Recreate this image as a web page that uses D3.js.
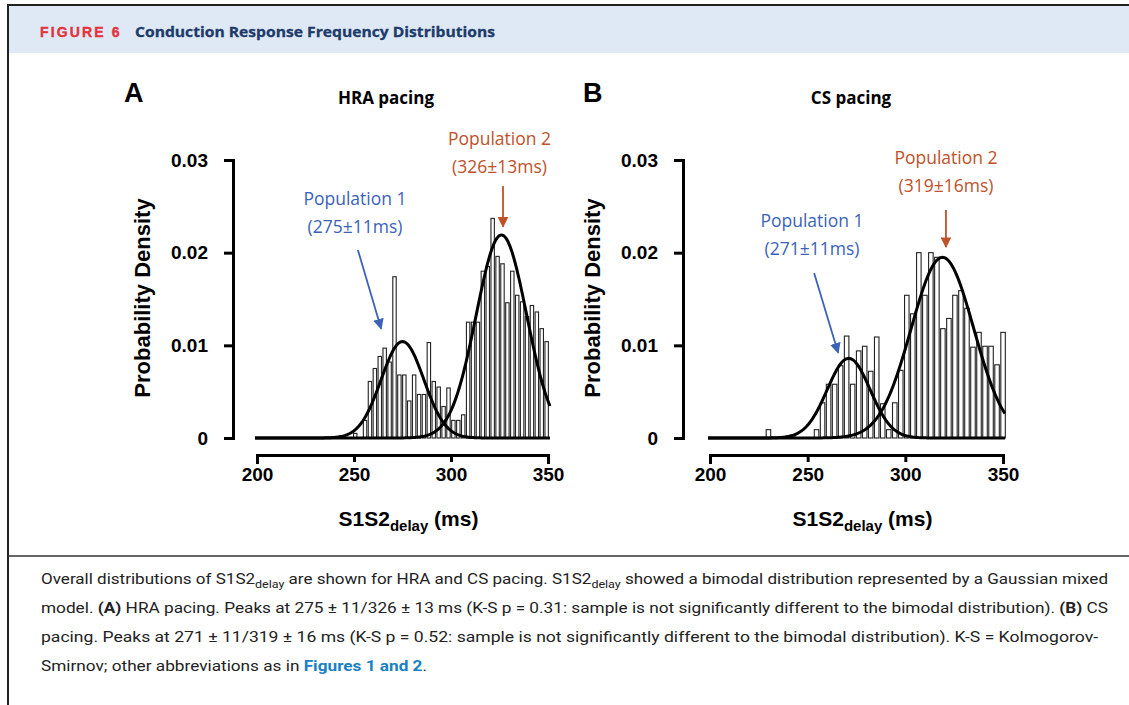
<!DOCTYPE html>
<html>
<head>
<meta charset="utf-8">
<script src="https://cdn.jsdelivr.net/npm/d3@7"></script>
<style>
  body { margin: 0; background: #fff; }
</style>
</head>
<body>
<div id="figure"></div>
<script>
// histogram bins (ms) and densities
var hraStart = 249.5, hraBinWidth = 2.53;
var hraDensity = [
  0.0005, 0, 0.0019, 0.0061, 0.0075, 0.0088, 0.0097, 0.0082, 0.0174, 0.0068,
  0.0068, 0.0040, 0.0068, 0.0047, 0.0047, 0.0103, 0.0061, 0.0055, 0.0034, 0.0054,
  0.0019, 0.0019, 0.0025, 0.0125, 0.0125, 0.0125, 0.0180, 0.0185, 0.0237, 0.0196,
  0.0188, 0.0146, 0.0180, 0.0154, 0.0147, 0.0131, 0.0143, 0.0136, 0.0118, 0.0104
];
var csStart = 228.5, csBinWidth = 3.08;
var csDensity = [
  0.0009, 0, 0, 0, 0.0003, 0, 0, 0, 0.0009, 0.0038,
  0.0058, 0.0058, 0.0078, 0.0110, 0.0058, 0.0094, 0.0099, 0.0072, 0.0109, 0.0037,
  0.0009, 0.0038, 0.0073, 0.0154, 0.0134, 0.0200, 0.0154, 0.0200, 0.0195, 0.0118,
  0.0129, 0.0154, 0.0159, 0.0140, 0.0098, 0.0114, 0.0099, 0.0099, 0.0079, 0.0114
];

// gaussian mixture components (mean, sd from the labels, weight from the peak heights)
var hraFits = [{ mean: 275, sd: 11, weight: 0.287 }, { mean: 326, sd: 13, weight: 0.714 }];
var csFits = [{ mean: 271, sd: 11, weight: 0.237 }, { mean: 319, sd: 16, weight: 0.782 }];

var xTicks = [200, 250, 300, 350];
var yTicks = [0, 0.01, 0.02, 0.03];

var blue = "#3c62b8", rust = "#c0512a";

var svg = d3.select("#figure")
  .append("svg")
  .attr("width", 1129)
  .attr("height", 705)
  .style("font-family", "'Liberation Sans', Arial, sans-serif");

// arrow heads
var defs = svg.append("defs");
[["arrowBlue", blue], ["arrowRust", rust]].forEach(function (m) {
  defs.append("marker")
    .attr("id", m[0])
    .attr("viewBox", "0 0 10 10")
    .attr("refX", 9).attr("refY", 5)
    .attr("markerWidth", 6).attr("markerHeight", 6)
    .attr("markerUnits", "strokeWidth")
    .attr("orient", "auto")
    .append("path")
    .attr("d", "M0,0L10,5L0,10z")
    .attr("fill", m[1]);
});

// header band + frame
svg.append("rect")
  .attr("x", 9).attr("y", 6).attr("width", 1120).attr("height", 47)
  .attr("fill", "#dfe9f5");
svg.append("path")
  .attr("d", "M8,705V5H1129")
  .attr("fill", "none").attr("stroke", "#222").attr("stroke-width", 2);
svg.append("text")
  .attr("x", 40).attr("y", 37)
  .attr("font-size", 14).attr("font-weight", "900")
  .attr("letter-spacing", 1.5)
  .attr("textLength", 81)
  .attr("stroke", "#e2343c").attr("stroke-width", 0.4)
  .attr("fill", "#e2343c")
  .text("FIGURE 6");
svg.append("text")
  .attr("x", 135).attr("y", 37)
  .attr("font-family", "'Open Sans', sans-serif")
  .attr("font-size", 15).attr("font-weight", "bold")
  .attr("textLength", 360).attr("lengthAdjust", "spacingAndGlyphs")
  .attr("stroke", "#1c3a6a").attr("stroke-width", 0.3)
  .attr("fill", "#1c3a6a")
  .text("Conduction Response Frequency Distributions");

function drawPanel(p) {
  var x = d3.scaleLinear().domain([200, 350]).range(p.xRange);
  var y = d3.scaleLinear().domain([0, 0.03]).range([438, 160]);
  var g = svg.append("g");

  // panel letter and title
  g.append("text")
    .attr("x", p.letterX).attr("y", 102)
    .attr("font-size", 27).attr("font-weight", "bold")
    .text(p.letter);
  g.append("text")
    .attr("x", p.titleX).attr("y", 104)
    .attr("text-anchor", "middle")
    .attr("font-family", "'Open Sans', sans-serif")
    .attr("font-size", 17).attr("font-weight", "bold")
    .text(p.title);

  // bars
  var bins = p.density.map(function (d, i) {
    return { x0: p.start + i * p.width, x1: p.start + (i + 1) * p.width, value: d };
  });
  g.selectAll("rect.bar")
    .data(bins.filter(function (d) { return d.value > 0; }))
    .enter()
    .append("rect")
    .attr("class", "bar")
    .attr("x", function (d) { return x(d.x0) + 0.5; })
    .attr("width", function (d) { return x(d.x1) - x(d.x0) - 1.5; })
    .attr("y", function (d) { return y(d.value); })
    .attr("height", function (d) { return y(0) - y(d.value); })
    .attr("fill", "#fff")
    .attr("stroke", "#222")
    .attr("stroke-width", 1.1);

  // fitted gaussians
  var grid = d3.range(199, 351.01, 0.5);
  p.fits.forEach(function (f) {
    g.append("path")
      .datum(grid)
      .attr("fill", "none")
      .attr("stroke", "#000")
      .attr("stroke-width", 3)
      .attr("d", d3.line()
        .x(function (d) { return x(d); })
        .y(function (d) {
          var z = (d - f.mean) / f.sd;
          return y(f.weight * Math.exp(-0.5 * z * z) / (f.sd * Math.sqrt(2 * Math.PI)));
        }));
  });

  // Y axis
  g.append("g")
    .attr("transform", "translate(" + p.yAxisX + ",0)")
    .call(d3.axisLeft(y).tickValues(yTicks).tickSize(9).tickSizeOuter(9)
      .tickFormat(function (d) { return d === 0 ? "0" : d3.format(".2f")(d); }))
    .call(function (a) {
      a.selectAll("path, line").attr("stroke", "#000").attr("stroke-width", 3);
      a.selectAll("text").attr("font-size", 19).attr("font-weight", "bold")
        .attr("font-family", "'Liberation Sans', Arial, sans-serif").attr("fill", "#000").attr("x", -25);
    });
  g.append("text")
    .attr("transform", "translate(" + (p.yAxisX - 83) + ",298) rotate(-90)")
    .attr("text-anchor", "middle")
    .attr("font-size", 22).attr("font-weight", "bold")
    .text("Probability Density");

  // X axis
  g.append("g")
    .attr("transform", "translate(0,455)")
    .call(d3.axisBottom(x).tickValues(xTicks).tickSize(7).tickSizeOuter(9))
    .call(function (a) {
      a.selectAll("path, line").attr("stroke", "#000").attr("stroke-width", 3);
      a.selectAll("text").attr("font-size", 19).attr("font-weight", "bold")
        .attr("font-family", "'Liberation Sans Narrow', 'Liberation Sans', Arial, sans-serif")
        .attr("fill", "#000").attr("y", 13);
    });
  var xl = g.append("text")
    .attr("x", (p.xRange[0] + p.xRange[1]) / 2 + 6).attr("y", 526)
    .attr("text-anchor", "middle")
    .attr("font-size", 21).attr("font-weight", "bold");
  xl.append("tspan").text("S1S2");
  xl.append("tspan").attr("font-size", 15).attr("dy", 5).text("delay");
  xl.append("tspan").attr("dy", -5).text(" (ms)");

  // population labels and arrows
  p.notes.forEach(function (n) {
    var t = g.append("text")
      .attr("text-anchor", "middle")
      .attr("font-family", "'Open Sans', sans-serif")
      .attr("font-size", 17.5)
      .attr("fill", n.color);
    t.append("tspan").attr("x", x(n.tx)).attr("y", n.ty).text(n.line1);
    t.append("tspan").attr("x", x(n.tx)).attr("y", n.ty + 28).text(n.line2);
    g.append("line")
      .attr("x1", x(n.from[0])).attr("y1", y(n.from[1]))
      .attr("x2", x(n.to[0])).attr("y2", y(n.to[1]))
      .attr("stroke", n.color).attr("stroke-width", 1.8)
      .attr("marker-end", "url(#" + n.marker + ")");
  });
}

drawPanel({
  letter: "A", letterX: 124, title: "HRA pacing", titleX: 386,
  xRange: [257, 548], yAxisX: 233,
  start: hraStart, width: hraBinWidth, density: hraDensity, fits: hraFits,
  notes: [
    { line1: "Population 1", line2: "(275±11ms)", color: blue, marker: "arrowBlue",
      tx: 250.5, ty: 205, from: [252, 0.0203], to: [264, 0.0118] },
    { line1: "Population 2", line2: "(326±13ms)", color: rust, marker: "arrowRust",
      tx: 325, ty: 145, from: [326.8, 0.0272], to: [326.8, 0.0228] }
  ]
});

drawPanel({
  letter: "B", letterX: 583, title: "CS pacing", titleX: 851,
  xRange: [710, 1003], yAxisX: 683,
  start: csStart, width: csBinWidth, density: csDensity, fits: csFits,
  notes: [
    { line1: "Population 1", line2: "(271±11ms)", color: blue, marker: "arrowBlue",
      tx: 252.2, ty: 227, from: [253.3, 0.0178], to: [265.6, 0.0092] },
    { line1: "Population 2", line2: "(319±16ms)", color: rust, marker: "arrowRust",
      tx: 320.8, ty: 164, from: [320.8, 0.0246], to: [320.8, 0.0206] }
  ]
});

// caption
svg.append("line")
  .attr("x1", 8).attr("x2", 1129).attr("y1", 556).attr("y2", 556)
  .attr("stroke", "#333").attr("stroke-width", 1.5);

var sub = "delay";
var captionLines = [
  { len: 1067, parts: [["Overall distributions of S1S2"], [sub, "sub"], [" are shown for HRA and CS pacing. S1S2"], [sub, "sub"], [" showed a bimodal distribution represented by a Gaussian mixed"]] },
  { len: 1067, parts: [["model. "], ["(A)", "b"], [" HRA pacing. Peaks at 275 \u00b1 11/326 \u00b1 13 ms (K-S p = 0.31: sample is not significantly different to the bimodal distribution). "], ["(B)", "b"], [" CS"]] },
  { len: 1057, parts: [["pacing. Peaks at 271 \u00b1 11/319 \u00b1 16 ms (K-S p = 0.52: sample is not significantly different to the bimodal distribution). K-S = Kolmogorov-"]] },
  { len: 386, parts: [["Smirnov; other abbreviations as in "], ["Figures 1 and 2", "link"], ["."]] }
];

captionLines.forEach(function (line, i) {
  var t = svg.append("text")
    .attr("x", 41).attr("y", 584 + i * 29)
    .attr("font-family", "'Liberation Sans Narrow', 'Roboto', sans-serif")
    .attr("font-size", 15)
    .attr("fill", "#222")
    .attr("textLength", line.len)
    .attr("lengthAdjust", "spacingAndGlyphs");
  var shifted = false;
  line.parts.forEach(function (part) {
    var s = t.append("tspan").text(part[0]);
    if (shifted) { s.attr("dy", -4); shifted = false; }
    if (part[1] === "sub") { s.attr("font-size", 11).attr("dy", 4); shifted = true; }
    if (part[1] === "b") { s.attr("font-weight", "bold"); }
    if (part[1] === "link") { s.attr("font-weight", "bold").attr("fill", "#1a80c4"); }
  });
});
</script>
</body>
</html>
